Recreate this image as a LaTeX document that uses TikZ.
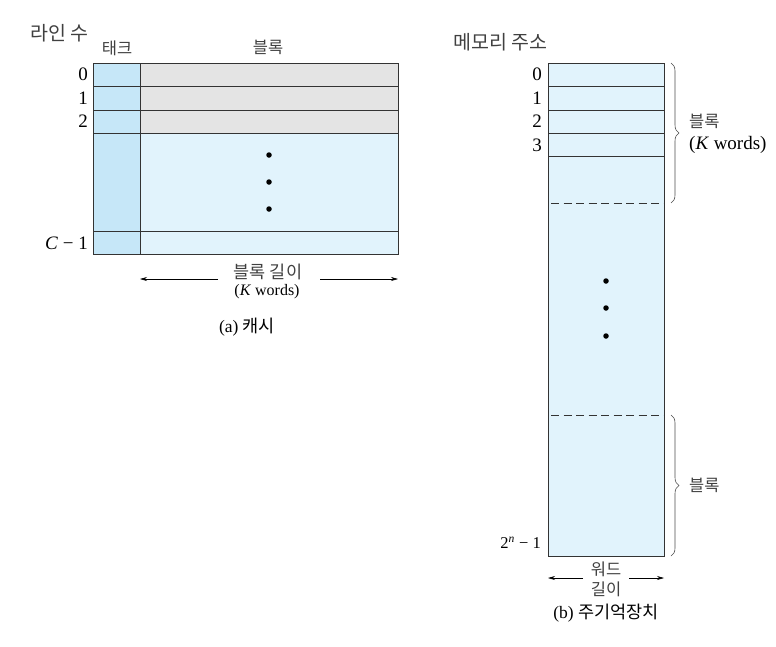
\documentclass[tikz,border=0pt]{standalone}
\usepackage{fontspec}
\setmainfont{Liberation Serif}
\newfontfamily\kr{Noto Sans CJK KR}
\usetikzlibrary{arrows.meta,decorations.pathreplacing}
\definecolor{tagblue}{HTML}{C6E7F8}
\definecolor{lightblue}{HTML}{E1F3FC}
\definecolor{blockgray}{HTML}{E4E4E4}
\definecolor{edge}{HTML}{333333}
\begin{document}
\begin{tikzpicture}[x=1pt,y=-1pt,
  cell/.style={draw=edge,line width=0.8pt},
  krlabel/.style={font=\kr\fontsize{16.5}{19}\selectfont,inner sep=0pt,text=black!75},
  krtitle/.style={font=\kr\fontsize{19.5}{22}\selectfont,inner sep=0pt,text=black!75,anchor=west},
  num/.style={font=\fontsize{19}{21}\selectfont,inner sep=0pt,anchor=east},
  small/.style={font=\fontsize{16}{18}\selectfont,inner sep=0pt},
  captext/.style={font=\fontsize{17.5}{20}\selectfont,inner sep=0pt},
  dotm/.style={circle,fill=black,inner sep=0pt,minimum size=5.5pt},
  dim/.style={line width=0.6pt,-{Stealth[length=7pt,width=4pt]}},
  dashline/.style={line width=0.8pt,draw=edge,dash pattern=on 8pt off 4.5pt},
  bracestyle/.style={decorate,decoration={brace,amplitude=8pt},line width=0.6pt,draw=black!70}]
\useasboundingbox (0,0) rectangle (776,646);
% ---------- cache ----------
\fill[lightblue] (140,133) rectangle (398,254);
\fill[blockgray] (140,63) rectangle (398,133);
\fill[tagblue] (93,63) rectangle (140,254);
\draw[cell] (93,63) rectangle (398,254);
\draw[cell] (140,63) -- (140,254);
\foreach \y in {86,110,133,231} \draw[cell] (93,\y) -- (398,\y);
\node[krtitle] (lines) at (30,33) {라인 수};
\node[krlabel] (tag) at (117,48) {태크};
\node[krlabel] (blk) at (268,47) {블록};
\node[num] (c0) at (88,74) {0};
\node[num] (c1) at (88,98) {1};
\node[num] (c2) at (88,121) {2};
\node[num] (cc) at (88,243) {\textit{C} − 1};
\node[dotm] (d1) at (269,155) {};
\node[dotm] (d2) at (269,182) {};
\node[dotm] (d3) at (269,209) {};
\node[krlabel,font=\kr\fontsize{17.5}{20}\selectfont] (blen) at (268,272) {블록 길이};
\node[small] (kw) at (267,292) {(\textit{K} words)};
\coordinate (al) at (140,279);
\coordinate (ar) at (398,279);
\coordinate (alm) at (218,279);
\coordinate (arm) at (320,279);
\draw[dim] (alm) -- (al);
\draw[dim] (arm) -- (ar);
\node[captext] (capa) at (247,327) {(a) {\kr 캐시}};
% ---------- main memory ----------
\fill[lightblue] (548,63) rectangle (664,556);
\draw[cell] (548,63) rectangle (664,556);
\foreach \y in {86,110,133,156} \draw[cell] (548,\y) -- (664,\y);
\draw[dashline] (551,203) -- (664,203);
\draw[dashline] (551,415) -- (664,415);
\node[krtitle] (maddr) at (453,42) {메모리 주소};
\node[num] (m0) at (542,74) {0};
\node[num] (m1) at (542,98) {1};
\node[num] (m2) at (542,121) {2};
\node[num] (m3) at (542,145) {3};
\node[num,font=\fontsize{16.5}{18}\selectfont] (mn) at (541,543) {2\textsuperscript{\textit{n}} − 1};
\node[dotm] (e1) at (606,281) {};
\node[dotm] (e2) at (606,308) {};
\node[dotm] (e3) at (606,336) {};
\coordinate (b1t) at (671,63);
\coordinate (b1b) at (671,203);
\coordinate (b2t) at (671,415);
\coordinate (b2b) at (671,556);
\draw[bracestyle] (b1t) -- (b1b);
\draw[bracestyle] (b2t) -- (b2b);
\node[krlabel,anchor=west] (mblk) at (689,121) {블록};
\node[num,anchor=west] (mkw) at (689,145) {(\textit{K} words)};
\node[krlabel,anchor=west] (mblk2) at (689,485) {블록};
\node[krlabel] (wd1) at (606,569) {워드};
\node[krlabel] (wd2) at (606,589) {길이};
\coordinate (wl) at (548,578);
\coordinate (wr) at (664,578);
\coordinate (wlm) at (583,578);
\coordinate (wrm) at (629,578);
\draw[dim] (wlm) -- (wl);
\draw[dim] (wrm) -- (wr);
\node[captext] (capb) at (606,613) {(b) {\kr 주기억장치}};
\end{tikzpicture}
\end{document}
